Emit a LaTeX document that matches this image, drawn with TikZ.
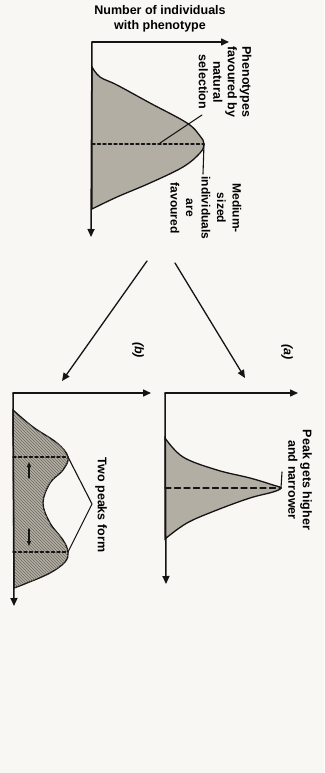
\documentclass[tikz,border=0pt]{standalone}
\usepackage{fontspec}
\setmainfont{Liberation Sans}
\usetikzlibrary{arrows.meta,patterns}
\definecolor{paper}{HTML}{F8F7F4}
\definecolor{ink}{HTML}{141414}
\definecolor{shade}{HTML}{B3AEA4}
\definecolor{hatch}{HTML}{6F6A62}

\tikzset{
  axis/.style={ink,line width=1.5pt,-{Triangle[length=8pt,width=7pt]}},
  bell/.style={ink,line width=1.3pt,fill=shade},
  lead/.style={ink,line width=1.1pt},
  dots/.style={ink,line width=1.4pt,dash pattern=on 3pt off 2.5pt},
  lbl/.style={font=\bfseries\fontsize{12.5}{14.5}\selectfont,align=center,inner sep=0pt},
  rlbl/.style={lbl,rotate=-90},
}

\begin{document}
\begin{tikzpicture}[x=1pt,y=-1pt,line cap=round]
  \fill[paper] (0,0) rectangle (324,773);
  \useasboundingbox (0,0) rectangle (324,773);

  % starting population
  \coordinate (O) at (92,42);
  \coordinate (Ox) at (229,42);
  \coordinate (Oy) at (91,237);
  \draw[bell] plot[smooth,tension=0.6] coordinates {(92,67) (100,77) (117,85)
      (150,103) (187,123) (200,136) (204,144) (200,153) (183,167) (150,183)
      (117,197) (92,209)} -- cycle;
  \draw[dots] (92,144) coordinate (m0) -- (204,144) coordinate (P);
  \draw[axis] (O) -- (Ox);
  \draw[axis] (O) -- (Oy);
  \node[lbl] (title) at (160,19) {Number of individuals\\with phenotype};
  \node[rlbl] (fav) at (225,82) {Phenotypes\\favoured by\\natural\\selection};
  \node[rlbl,font=\bfseries\fontsize{12}{15.5}\selectfont] (med) at (206,208)
    {Medium-\\sized\\individuals\\are\\favoured};
  \coordinate (f0) at (160,143);
  \coordinate (f1) at (202,115);
  \coordinate (p1) at (203,174);
  \draw[lead] (f0) -- (f1);
  \draw[lead] (P) -- (p1);

  % branches
  \coordinate (a0) at (175,263);
  \coordinate (a1) at (245,378);
  \coordinate (b0) at (147,261);
  \coordinate (b1) at (62,381);
  \draw[axis,line width=1.3pt] (a0) -- (a1);
  \draw[axis,line width=1.3pt] (b0) -- (b1);
  \node[rlbl,font=\bfseries\itshape\fontsize{12.5}{14.5}\selectfont] (la) at (287,352) {(a)};
  \node[rlbl,font=\bfseries\itshape\fontsize{12.5}{14.5}\selectfont] (lb) at (138,350) {(b)};

  % (a) stabilising
  \coordinate (A) at (165,393);
  \coordinate (Ax) at (298,393);
  \coordinate (Ay) at (166,584);
  \draw[bell] plot[smooth,tension=0.6] coordinates {(165,438) (183,457) (217,470)
      (250,478) (273,485) (281,488) (273,492) (250,498) (217,510) (187,523)
      (165,539)} -- cycle;
  \draw[ink,line width=1.3pt,dash pattern=on 6pt off 3.5pt] (165,488) -- (281,488) coordinate (Q);
  \draw[axis] (A) -- (Ax);
  \draw[axis] (A) -- (Ay);
  \node[rlbl] (peak) at (300,480) {Peak gets higher\\and narrower};
  \coordinate (q1) at (282,472);
  \draw[lead] (Q) -- (q1);

  % (b) two peaks
  \coordinate (B) at (13,393);
  \coordinate (Bx) at (151,393);
  \coordinate (By) at (14,606);
  \draw[bell,postaction={pattern=north west lines,pattern color=hatch}]
    plot[smooth,tension=0.6] coordinates {(13,410) (33,427) (57,443) (68,457)
      (63,470) (50,483) (43,503) (50,523) (63,540) (68,552) (65,562) (50,573)
      (27,583) (14,588)} -- cycle;
  \draw[dots] (13,457) -- (68,457) coordinate (R1);
  \draw[dots] (13,552) -- (68,552) coordinate (R2);
  \draw[ink,line width=1.1pt,-{Triangle[length=5pt,width=4pt]}] (29,478) -- (29,462);
  \draw[ink,line width=1.1pt,-{Triangle[length=5pt,width=4pt]}] (29,529) -- (29,546);
  \draw[axis] (B) -- (Bx);
  \draw[axis] (B) -- (By);
  \node[rlbl] (two) at (101,505) {Two peaks form};
  \coordinate (v) at (92,504);
  \draw[lead] (R1) -- (v) -- (R2);
\end{tikzpicture}
\end{document}
